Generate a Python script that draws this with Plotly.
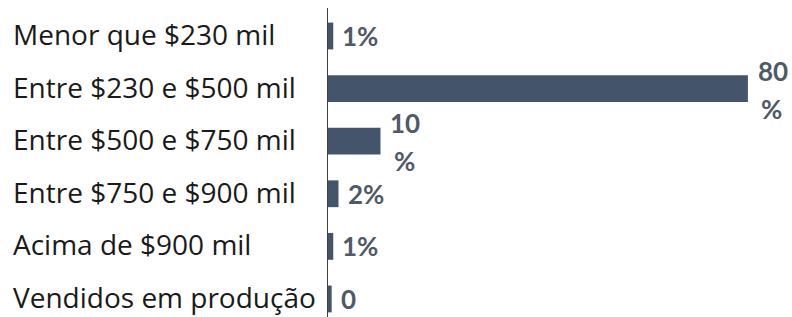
import plotly.graph_objects as go

categories = ["Menor que $230 mil", "Entre $230 e $500 mil", "Entre $500 e $750 mil",
              "Entre $750 e $900 mil", "Acima de $900 mil", "Vendidos em produção"]
values = [1, 80, 10, 2, 1, 0.7]
value_labels = ["1%", "80<br>%", "10<br>%", "2%", "1%", "0"]

BAR = "#44546A"
TXT = "#4F5968"
LBL_FONT = dict(family="Lato", size=26, color=TXT, weight="bold")

fig = go.Figure(go.Bar(
    x=values, y=categories, orientation="h",
    marker=dict(color=BAR, line=dict(width=0)),
    width=0.51, hoverinfo="skip",
))

annotations = []
for c, v, t in zip(categories, values, value_labels):
    parts = t.split("<br>")
    if len(parts) == 1:
        annotations.append(dict(x=v, y=c, xref="x", yref="y", text=t, showarrow=False,
                                xanchor="left", yanchor="middle", xshift=7, font=LBL_FONT))
    else:
        annotations.append(dict(x=v, y=c, xref="x", yref="y", text=parts[0], showarrow=False,
                                xanchor="left", yanchor="middle", xshift=8, yshift=18,
                                font=LBL_FONT))
        annotations.append(dict(x=v, y=c, xref="x", yref="y", text=parts[1], showarrow=False,
                                xanchor="center", yanchor="middle", xshift=24, yshift=-20,
                                font=LBL_FONT))
    annotations.append(dict(x=-0.6832, y=c, xref="paper", yref="y", text=c, showarrow=False,
                            xanchor="left", yanchor="middle", align="left", yshift=2,
                            font=dict(family="Open Sans", size=28, color="#1a1a1a")))

fig.update_layout(
    width=792, height=317,
    margin=dict(l=328, r=0, t=8, b=0),
    paper_bgcolor="white", plot_bgcolor="white",
    showlegend=False,
    annotations=annotations,
    xaxis=dict(range=[0, 88.4], visible=False, fixedrange=True),
    yaxis=dict(type="category", range=[5.343, -0.532], showticklabels=False,
               showline=True, linecolor="#404040", linewidth=1, ticks="",
               showgrid=False, zeroline=False, fixedrange=True),
)

fig.write_html("out.html", config={"displayModeBar": False},
               post_script="document.body.style.margin='0';document.body.style.overflow='hidden';")
